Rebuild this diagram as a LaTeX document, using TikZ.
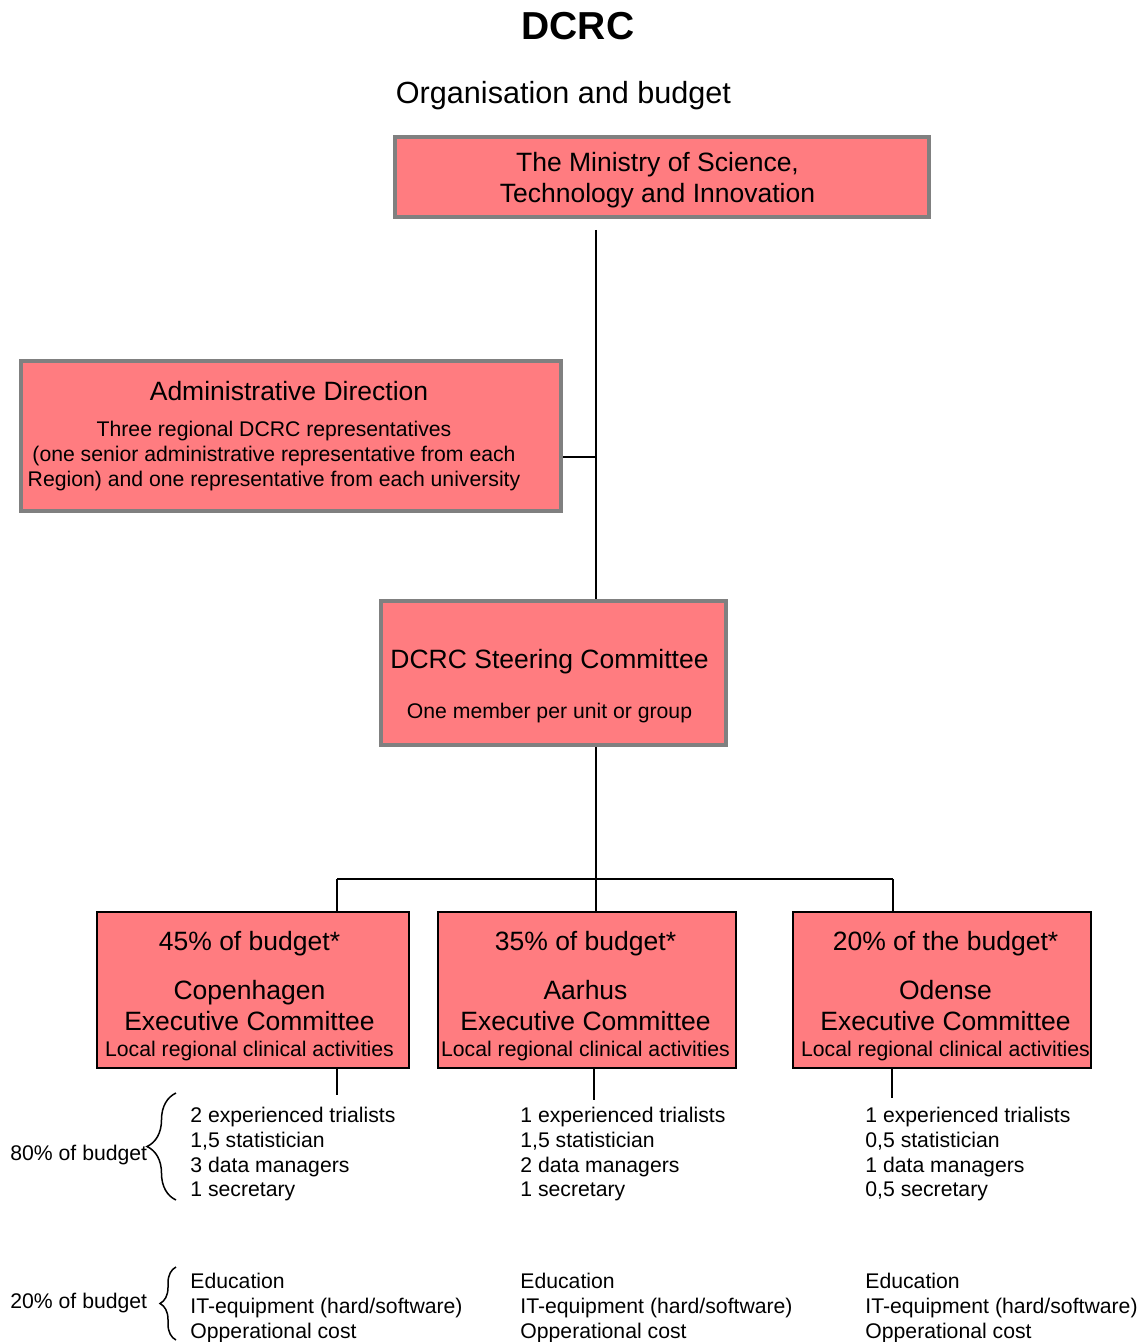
\documentclass[tikz,border=0pt]{standalone}
\usepackage{fontspec}
\setmainfont{Liberation Sans}
\usepackage{tikz}
\usetikzlibrary{shapes,arrows,positioning}
\usetikzlibrary{decorations.pathreplacing}
\definecolor{boxpink}{RGB}{255,124,128}
\definecolor{boxgrey}{RGB}{128,128,128}
\newcommand{\bigfont}{\fontsize{13.25}{15.5}\selectfont}
\newcommand{\smallfont}{\fontsize{10.6}{12.35}\selectfont}
\tikzset{
  topbox/.style={draw=boxgrey, line width=2.25pt, fill=boxpink, inner sep=0pt},
  unitbox/.style={draw=black, line width=1pt, fill=boxpink, inner sep=0pt, minimum height=78pt},
  boxtext/.style={align=center, inner sep=0pt},
  plain/.style={align=left, inner sep=0pt, font=\smallfont},
  link/.style={black, line width=0.75pt},
  budgetbrace/.style={decorate, line width=0.75pt, decoration={brace, amplitude=#1}},
}

\begin{document}
\begin{tikzpicture}[x=0.5pt, y=-0.5pt]
\useasboundingbox (0,0) rectangle (1145,1342);

% headings
\node[inner sep=0pt, anchor=base, font=\fontsize{19.5}{22}\selectfont\bfseries] (title) at (578,40) {DCRC};
\node[inner sep=0pt, anchor=base, font=\fontsize{15.3}{18}\selectfont] (subtitle) at (563.5,104) {Organisation and budget};

% upper boxes
\node[topbox, minimum width=267pt, minimum height=40pt] (ministry) at (662,177) {};
\node[boxtext, font=\bigfont] (ministrytxt) at (657.5,180) {The Ministry of Science,\\Technology and Innovation};
\node[topbox, minimum width=270pt, minimum height=75pt] (admin) at (291,436) {};
\node[boxtext, anchor=base, font=\bigfont] (admintitle) at (289,400) {Administrative Direction};
\node[boxtext, font=\smallfont] (admintxt) at (274,456) {Three regional DCRC representatives\\(one senior administrative representative from each\\Region) and one representative from each university};
\node[topbox, minimum width=172.5pt, minimum height=72pt] (steer) at (553.5,673) {};
\node[boxtext, font=\bigfont] (steertxt) at (549.5,686) {DCRC Steering Committee\\[9.75pt]{\smallfont One member per unit or group}};

% executive committees
\node[unitbox, minimum width=156pt] (cph) at (253,990) {};
\node[boxtext, font=\bigfont] (cphtxt) at (249.5,996) {45\% of budget*\\[9pt]Copenhagen\\Executive Committee\\[-2.75pt]{\smallfont Local regional clinical activities}};
\node[unitbox, minimum width=149pt] (aar) at (587,990) {};
\node[boxtext, font=\bigfont] (aartxt) at (585.5,996) {35\% of budget*\\[9pt]Aarhus\\Executive Committee\\[-2.75pt]{\smallfont Local regional clinical activities}};
\node[unitbox, minimum width=149pt] (ode) at (942,990) {};
\node[boxtext, font=\bigfont] (odetxt) at (945.5,996) {20\% of the budget*\\[9pt]Odense\\Executive Committee\\[-2.75pt]{\smallfont Local regional clinical activities}};

% connectors
\coordinate (mintail) at (596,230);
\coordinate (adminjoin) at (596,457);
\coordinate (barL) at (337,879);
\coordinate (barR) at (893,879);
\coordinate (cphtail) at (337,1095);
\coordinate (aartail) at (594,1100);
\coordinate (odetail) at (892,1098);
\draw[link] (mintail) -- (mintail |- steer.north);
\draw[link] (admin.east |- adminjoin) -- (adminjoin);
\draw[link] (steer.south -| mintail) -- (mintail |- aar.north);
\draw[link] (barL) -- (barR);
\draw[link] (barL) -- (barL |- cph.north);
\draw[link] (barR) -- (barR |- ode.north);
\draw[link] (cph.south -| cphtail) -- (cphtail);
\draw[link] (aar.south -| aartail) -- (aartail);
\draw[link] (ode.south -| odetail) -- (odetail);

% staff
\node[plain, anchor=north west] (cphstaff) at (190,1107) {2 experienced trialists\\1,5 statistician\\3 data managers\\1 secretary};
\node[plain, anchor=north west] (aarstaff) at (520,1107) {1 experienced trialists\\1,5 statistician\\2 data managers\\1 secretary};
\node[plain, anchor=north west] (odestaff) at (865,1107) {1 experienced trialists\\0,5 statistician\\1 data managers\\0,5 secretary};
\node[plain, anchor=base west] (staffshare) at (10,1160.5) {80\% of budget};
\draw[budgetbrace=14.5pt] (176,1200) -- (176,1093);

% running costs
\node[plain, anchor=north west] (cphcost) at (190,1273) {Education\\IT-equipment (hard/software)\\Opperational cost};
\node[plain, anchor=north west] (aarcost) at (520,1273) {Education\\IT-equipment (hard/software)\\Opperational cost};
\node[plain, anchor=north west] (odecost) at (865,1273) {Education\\IT-equipment (hard/software)\\Opperational cost};
\node[plain, anchor=base west] (costshare) at (10,1308.5) {20\% of budget};
\draw[budgetbrace=8pt] (176,1340) -- (176,1267);
\end{tikzpicture}
\end{document}
